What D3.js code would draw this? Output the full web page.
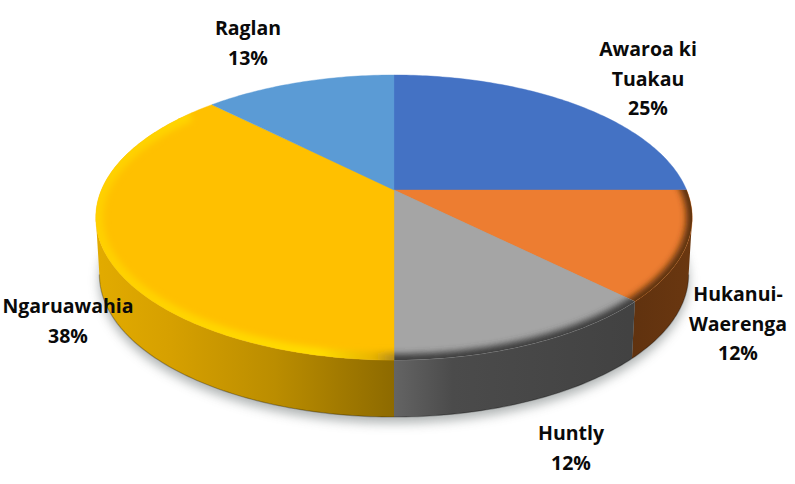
<!DOCTYPE html>
<html><head><meta charset="utf-8">
<style>html,body{margin:0;padding:0;background:#fff}svg{display:block}
text{font-family:"Open Sans",Lato,sans-serif;font-weight:700;font-size:19.5px;fill:#0a0a0a;text-anchor:middle}</style>
<script src="https://cdn.jsdelivr.net/npm/d3@7"></script></head><body>
<svg id="c" width="795" height="484"></svg>
<script>
const categories=[["Awaroa ki","Tuakau"],["Hukanui-","Waerenga"],["Huntly"],["Ngaruawahia"],["Raglan"]];
const values=[25,12.4,12.6,37.5,12.5];
const percentLabels=["25%","12%","12%","38%","13%"];

const topColors=["#4472C4","#ED7D31","#A5A5A5","#FFC000","#5B9BD5"];
const labelAnchors=[[648,56],[738,301],[571,440],[68,313],[248,35]];
const lineStep=29.7;
const cx=394,cy=190,rx=292.6,ry=137.2,k=0.193,depth=57,baseShrink=0.988;
const sideStart=Math.acos(-k),sideEnd=2*Math.PI-sideStart;

const svg=d3.select("#c"),defs=svg.append("defs");
const xS=d3.scaleLinear().domain([-1,1]).range([cx-rx,cx+rx]);
const yS=d3.scaleLinear().domain([-1,1]).range([cy-ry,cy+ry]);
const rim=t=>{const u=Math.sin(t),v=-Math.cos(t),w=1-k*v;return [xS(u/w),yS(v/w)];};
const base=t=>{const p=rim(t);return [cx+(p[0]-cx)*baseShrink,p[1]+depth];};
const line=d3.line();
const arcPts=(a,b,f)=>{const n=Math.max(2,Math.ceil((b-a)*60));return d3.range(n+1).map(i=>f(a+(b-a)*i/n));};
const arcs=d3.pie().sort(null).value(d=>d)(values);

function grad(id,x1,x2,stops){
  const g=defs.append("linearGradient").attr("id",id).attr("gradientUnits","userSpaceOnUse")
    .attr("x1",x1).attr("x2",x2).attr("y1",0).attr("y2",0);
  stops.forEach(s=>g.append("stop").attr("offset",s[0]).attr("stop-color",s[1]));
}
grad("sideY",cx-298,cx,[[0,"#e2ab00"],[0.25,"#d6a000"],[0.6,"#bb8d00"],[1,"#8d6a00"]]);
grad("sideG",cx,cx+235,[[0,"#646464"],[0.25,"#4b4b4b"],[1,"#424242"]]);
grad("sideO",cx+235,cx+298,[[0,"#60320f"],[1,"#6a3710"]]);
grad("rimY",cx-298,cx,[[0,"#ffd000"],[0.75,"#ffdc00"],[0.93,"#e8b400"],[1,"#b08a20"]]);
const sideFill=[null,"url(#sideO)","url(#sideG)","url(#sideY)",null];
const rimStroke=[null,"#5c300e","#3c3c3c","url(#rimY)",null];

defs.append("filter").attr("id","sh").attr("x","-20%").attr("y","-20%").attr("width","140%").attr("height","140%")
  .append("feGaussianBlur").attr("stdDeviation",5.5);
defs.append("filter").attr("id","bv").attr("x","-20%").attr("y","-20%").attr("width","140%").attr("height","140%")
  .append("feGaussianBlur").attr("stdDeviation",3.2);

svg.append("path").attr("d",line(arcPts(0,2*Math.PI,base))+"Z")
  .attr("transform","translate(0,6)").attr("fill","#5f6868").attr("opacity",.5).attr("filter","url(#sh)");

arcs.forEach((d,i)=>{
  if(!sideFill[i])return;
  const a=Math.max(d.startAngle,sideStart),b=Math.min(d.endAngle,sideEnd);
  if(b<=a)return;
  const pts=arcPts(a,b,rim).concat(arcPts(a,b,base).reverse());
  svg.append("path").attr("d",line(pts)+"Z").attr("fill",sideFill[i]);
  svg.append("path").attr("d",line(arcPts(a,b,base))).attr("fill","none")
    .attr("stroke","#000").attr("stroke-opacity",.28).attr("stroke-width",1.2);
});

arcs.forEach((d,i)=>{
  const pts=[[cx,cy]].concat(arcPts(d.startAngle,d.endAngle,rim));
  const path=line(pts)+"Z";
  svg.append("path").attr("d",path).attr("fill",topColors[i]).attr("stroke",topColors[i]).attr("stroke-width",.4);
  if(rimStroke[i]){
    const id="cl"+i;
    defs.append("clipPath").attr("id",id).append("path").attr("d",path);
    const a=Math.max(d.startAngle-.2,1.35),b=Math.min(d.endAngle+.2,2*Math.PI-.9);
    svg.append("g").attr("clip-path",`url(#${id})`).append("path")
      .attr("d",line(arcPts(a,b,rim))).attr("fill","none")
      .attr("stroke",rimStroke[i]).attr("stroke-width",i==3?15:12).attr("filter","url(#bv)");
  }
});

arcs.forEach((d,i)=>{
  const [x,y]=labelAnchors[i];
  const rows=categories[i].concat([percentLabels[i]]);
  const t=svg.append("text").attr("x",x).attr("y",y);
  rows.forEach((r,j)=>t.append("tspan").attr("x",x).attr("y",y+j*lineStep).text(r));
});
</script></body></html>
